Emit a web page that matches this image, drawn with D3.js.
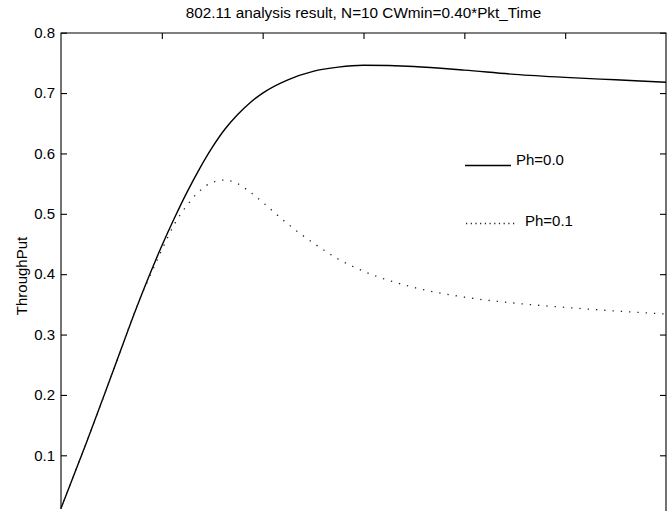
<!DOCTYPE html>
<html><head><meta charset="utf-8">
<script src="https://cdn.jsdelivr.net/npm/d3@7"></script>
<style>html,body{margin:0;padding:0;background:#fff;}svg{display:block;}</style>
</head><body>
<svg id="chart" width="671" height="517"></svg>
<script>
const title = "802.11 analysis result, N=10 CWmin=0.40*Pkt_Time";
const yLabel = "ThroughPut";
const yTicks = [0.1, 0.2, 0.3, 0.4, 0.5, 0.6, 0.7, 0.8];
const xTicks = [1, 2, 3, 4, 5];
const xs = [0, 0.25, 0.5, 0.75, 1.0, 1.125, 1.25, 1.375, 1.5, 1.625, 1.75, 1.875, 2.0, 2.25, 2.5, 2.75, 3.0, 3.5, 4.0, 4.5, 5.0, 5.5, 6.0];
const ph00 = [0.012, 0.12, 0.232, 0.345, 0.447, 0.493, 0.536, 0.575, 0.610, 0.640, 0.664, 0.684, 0.700, 0.722, 0.736, 0.743, 0.746, 0.744, 0.738, 0.731, 0.726, 0.722, 0.718];
const ph01 = [0.012, 0.12, 0.232, 0.345, 0.44, 0.483, 0.514, 0.538, 0.552, 0.556, 0.550, 0.536, 0.519, 0.483, 0.452, 0.425, 0.405, 0.378, 0.362, 0.352, 0.345, 0.339, 0.334];
const legendLabels = ["Ph=0.0", "Ph=0.1"];

const svg = d3.select("#chart");
const L = 61, R = 666, T = 33, B = 511;
const x = d3.scaleLinear().domain([0, 6]).range([L, R]);
const y = d3.scaleLinear().domain([0.1, 0.8]).range([455.3, 32.7]);
const font = "'Liberation Sans', Arial, Helvetica, sans-serif";

// frame
const frame = svg.append("g").attr("stroke", "#000").attr("stroke-width", 1.1).attr("fill", "none");
frame.append("path").attr("d", `M${L},${B-2}V${T}H${R}V${B}`);

// left axis ticks/labels
const yl = svg.append("g").attr("transform", `translate(${L},0)`)
  .call(d3.axisLeft(y).tickValues(yTicks).tickSizeInner(-6).tickSizeOuter(0).tickPadding(6).tickFormat(d3.format(".1f")));
yl.select(".domain").remove();
yl.selectAll("line").attr("stroke", "#000").attr("stroke-width", 1.1);
yl.selectAll("text").attr("font-family", font).attr("font-size", 15).attr("fill", "#000");

// right ticks
const yr = svg.append("g").attr("transform", `translate(${R},0)`)
  .call(d3.axisRight(y).tickValues(yTicks).tickSizeInner(-6).tickSizeOuter(0).tickFormat(""));
yr.select(".domain").remove();
yr.selectAll("line").attr("stroke", "#000").attr("stroke-width", 1.1);

// top ticks
const xt = svg.append("g").attr("transform", `translate(0,${T})`)
  .call(d3.axisTop(x).tickValues(xTicks).tickSizeInner(-6).tickSizeOuter(0).tickFormat(""));
xt.select(".domain").remove();
xt.selectAll("line").attr("stroke", "#000").attr("stroke-width", 1.1);

// title
svg.append("text").attr("x", (L + R) / 2).attr("y", 17.5).attr("text-anchor", "middle")
  .attr("font-family", font).attr("font-size", 15.3).attr("fill", "#000").text(title);

// y label
svg.append("text").attr("transform", `translate(27,276) rotate(-90)`).attr("text-anchor", "middle")
  .attr("font-family", font).attr("font-size", 15).attr("fill", "#000").text(yLabel);

const line = d3.line().x((d, i) => x(xs[i])).y(d => y(d)).curve(d3.curveMonotoneX);
svg.append("path").datum(ph00).attr("d", line).attr("fill", "none").attr("stroke", "#000").attr("stroke-width", 1.4);
svg.append("path").datum(ph01).attr("d", line).attr("fill", "none").attr("stroke", "#222").attr("stroke-width", 1.3)
  .attr("stroke-dasharray", "1.3,7");

// legend
svg.append("line").attr("x1", 465).attr("x2", 511).attr("y1", 165.5).attr("y2", 165.5).attr("stroke", "#000").attr("stroke-width", 1.3);
svg.append("text").attr("x", 516).attr("y", 165).attr("font-family", font).attr("font-size", 15).attr("fill", "#000").text(legendLabels[0]);
svg.append("line").attr("x1", 466).attr("x2", 517).attr("y1", 223.5).attr("y2", 223.5).attr("stroke", "#222").attr("stroke-width", 1.3).attr("stroke-dasharray", "1.2,3.5");
svg.append("text").attr("x", 525).attr("y", 226).attr("font-family", font).attr("font-size", 15).attr("fill", "#000").text(legendLabels[1]);
</script>
</body></html>
